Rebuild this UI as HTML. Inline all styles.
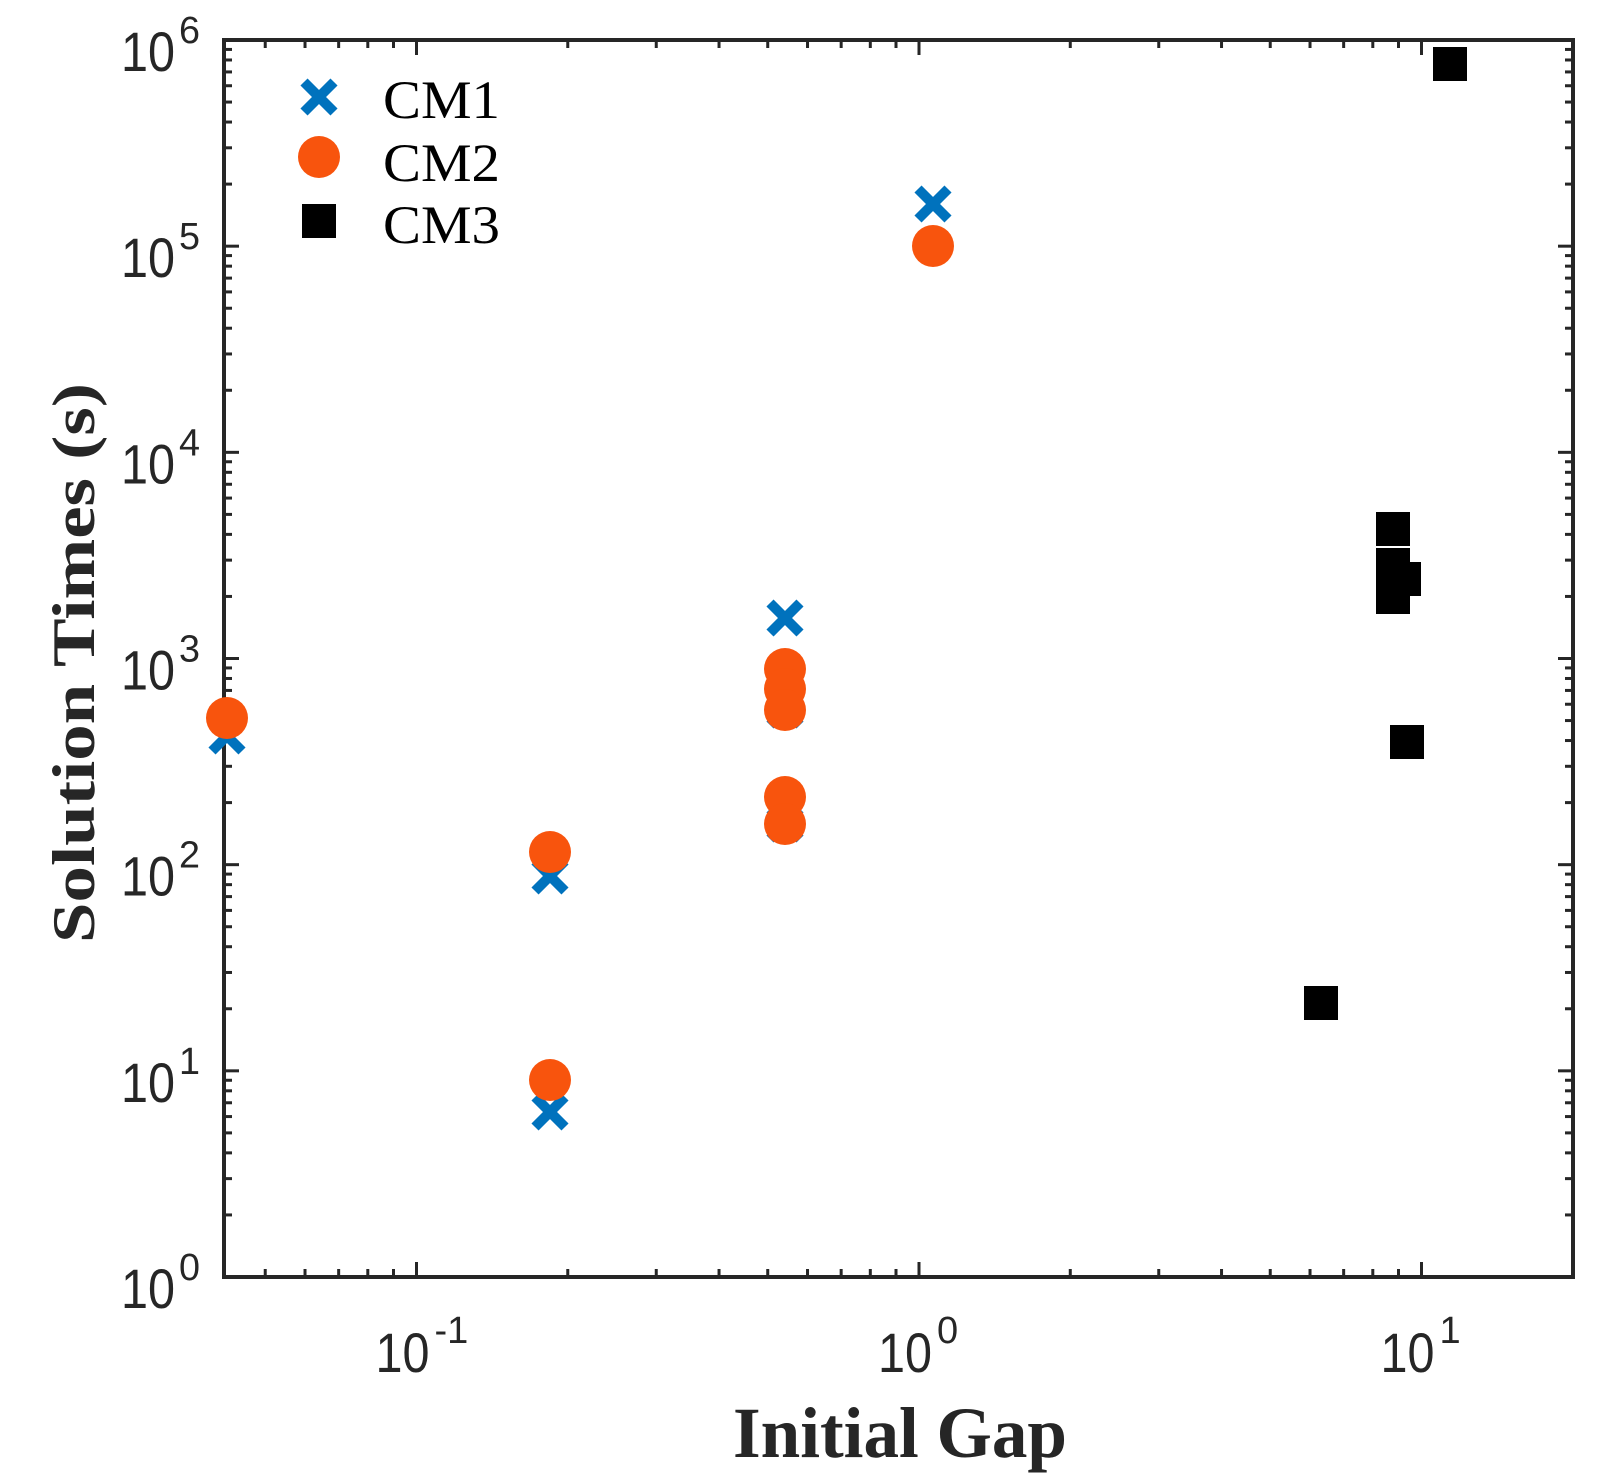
<!DOCTYPE html>
<html><head><meta charset="utf-8"><style>html,body{margin:0;padding:0;background:#fff}svg{display:block}</style></head>
<body>
<svg id="s" width="1608" height="1480" viewBox="0 0 1608 1480" xmlns="http://www.w3.org/2000/svg">
<rect width="1608" height="1480" fill="#fff"/>
<g id="ticks" stroke="#262626" stroke-width="3"></g>
<rect x="224" y="40" width="1349" height="1237" fill="none" stroke="#262626" stroke-width="4"/>
<g id="pts"></g>
<g font-family="Liberation Sans, Arial, sans-serif" fill="#262626" id="lbl"></g>
<text x="900" y="1457" text-anchor="middle" font-family="Liberation Serif, serif" font-weight="bold" font-size="72" fill="#262626" textLength="334" lengthAdjust="spacingAndGlyphs">Initial Gap</text>
<text transform="translate(94,663) rotate(-90)" text-anchor="middle" font-family="Liberation Serif, serif" font-weight="bold" font-size="60" fill="#262626" textLength="560" lengthAdjust="spacingAndGlyphs">Solution Times (s)</text>
<g font-family="Liberation Serif, serif" font-size="54" fill="#000">
<text x="383" y="118" textLength="117" lengthAdjust="spacingAndGlyphs">CM1</text>
<text x="383" y="181" textLength="117" lengthAdjust="spacingAndGlyphs">CM2</text>
<text x="383" y="243" textLength="117" lengthAdjust="spacingAndGlyphs">CM3</text>
</g>
</svg>
<script>
var NS="http://www.w3.org/2000/svg";
function el(p,t,a,txt){var e=document.createElementNS(NS,t);for(var k in a)e.setAttribute(k,a[k]);if(txt!==undefined)e.textContent=txt;p.appendChild(e);return e;}
var L=224,R=1573,T=40,B=1277;
var xd=502.5, x0=416.5;
function X(v){return x0+(Math.log10(v)+1)*xd;}
function Y(v){return B-Math.log10(v)*(B-T)/6;}
var tk=document.getElementById('ticks');
for(var d=-2;d<=1;d++){for(var m=1;m<10;m++){var v=m*Math.pow(10,d);var x=X(v);if(x<L+1||x>R-1)continue;var len=m==1?15:8;
el(tk,'line',{x1:x,y1:B,x2:x,y2:B-len});el(tk,'line',{x1:x,y1:T,x2:x,y2:T+len});}}
for(var d=0;d<=6;d++){for(var m=1;m<10;m++){var v=m*Math.pow(10,d);if(d==6&&m>1)break;var y=Y(v);var len=m==1?15:8;
el(tk,'line',{x1:L,y1:y,x2:L+len,y2:y});el(tk,'line',{x1:R,y1:y,x2:R-len,y2:y});}}
var lb=document.getElementById('lbl');
for(var d=0;d<=6;d++){var y=Y(Math.pow(10,d));
el(lb,'text',{x:175,y:y+31,'text-anchor':'end','font-size':56,textLength:54,lengthAdjust:'spacingAndGlyphs'},'10');
el(lb,'text',{x:179,y:y+3,'font-size':38,textLength:21,lengthAdjust:'spacingAndGlyphs'},String(d));}
var xs=[[-1,'-1'],[0,'0'],[1,'1']];
xs.forEach(function(a){var x=X(Math.pow(10,a[0]));
el(lb,'text',{x:x+13,y:1372,'text-anchor':'end','font-size':56,textLength:54,lengthAdjust:'spacingAndGlyphs'},'10');
el(lb,'text',{x:x+18,y:1343,'font-size':38},a[1]);});
var p=document.getElementById('pts');
var cm1=[[227,736],[550,876],[550,1112],[785,618],[785,710],[785,824],[933,204]];
var cm2=[[227,718],[550,852],[550,1080],[785,669],[785,689],[785,710],[785,797],[785,824],[933,246]];
var cm3=[[1450,64],[1393,529],[1393,565],[1404,579],[1393,597],[1407,742],[1321,1003]];
cm1.forEach(function(c){var s=15;el(p,'path',{d:'M'+(c[0]-s)+' '+(c[1]-s)+'L'+(c[0]+s)+' '+(c[1]+s)+'M'+(c[0]-s)+' '+(c[1]+s)+'L'+(c[0]+s)+' '+(c[1]-s),stroke:'#0072BD','stroke-width':10});});
cm2.forEach(function(c){el(p,'circle',{cx:c[0],cy:c[1],r:21,fill:'#F8540D'});});
cm3.forEach(function(c){el(p,'rect',{x:c[0]-17,y:c[1]-17,width:34,height:34,fill:'#000'});});
var s=15,lx=319;
el(p,'path',{d:'M'+(lx-s)+' '+(97-s)+'L'+(lx+s)+' '+(97+s)+'M'+(lx-s)+' '+(97+s)+'L'+(lx+s)+' '+(97-s),stroke:'#0072BD','stroke-width':10});
el(p,'circle',{cx:lx,cy:157,r:21,fill:'#F8540D'});
el(p,'rect',{x:lx-17,y:221-17,width:34,height:34,fill:'#000'});
</script>
</body></html>
